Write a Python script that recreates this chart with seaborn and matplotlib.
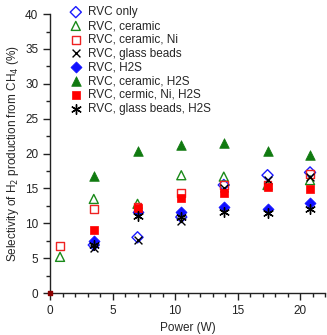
import numpy as np
import pandas as pd
import seaborn as sns
import matplotlib.pyplot as plt

power = [0.8, 3.5, 7.0, 10.5, 13.9, 17.4, 20.8]

rvc_only = [np.nan, 6.9, 8.0, 10.9, 15.5, 16.9, 17.3]
rvc_ceramic = [5.2, 13.5, 12.8, 16.9, 16.7, 15.5, 16.2]
rvc_ceramic_ni = [6.8, 12.1, 12.4, 14.4, 15.5, 15.5, 17.1]
rvc_glass = [np.nan, 6.4, 7.6, 10.3, 15.0, 16.2, 16.7]
rvc_h2s = [np.nan, 7.5, 11.7, 11.7, 12.4, 12.1, 12.9]
rvc_ceramic_h2s = [np.nan, 16.8, 20.4, 21.2, 21.5, 20.4, 19.8]
rvc_cermic_ni_h2s = [np.nan, 9.0, 12.2, 13.6, 14.4, 15.2, 14.9]
rvc_glass_h2s = [np.nan, 6.9, 11.1, 10.9, 11.7, 11.5, 12.0]

origin_x = [0]
origin_y = [0]

labels = ["RVC only", "RVC, ceramic", "RVC, ceramic, Ni", "RVC, glass beads",
          "RVC, H2S", "RVC, ceramic, H2S", "RVC, cermic, Ni, H2S",
          "RVC, glass beads, H2S"]
series = [rvc_only, rvc_ceramic, rvc_ceramic_ni, rvc_glass,
          rvc_h2s, rvc_ceramic_h2s, rvc_cermic_ni_h2s, rvc_glass_h2s]

# marker, colour, filled, size
styles = [
    ("D", "#1a1aff", False, 32),
    ("^", "#1a8a1a", False, 42),
    ("s", "#ee2222", False, 32),
    ("x", "black", True, 32),
    ("D", "#1010ff", True, 32),
    ("^", "#107a10", True, 48),
    ("s", "#ff0000", True, 34),
    ((6, 2, 0), "black", True, 48),
]

sns.set_style("ticks")
plt.rcParams['font.family'] = ['Liberation Sans', 'DejaVu Sans']

fig = plt.figure(figsize=(3.27, 3.35), dpi=100)
ax = fig.add_axes([0.153, 0.125, 0.841, 0.833])

for lab, y, (m, c, filled, s) in zip(labels, series, styles):
    df = pd.DataFrame({"Power": power, "Sel": y}).dropna()
    if m in ("x",) or isinstance(m, tuple):
        sns.scatterplot(data=df, x="Power", y="Sel", marker=m, color=c, s=s,
                        linewidth=1.0, label=lab, ax=ax)
    elif filled:
        sns.scatterplot(data=df, x="Power", y="Sel", marker=m, color=c, s=s,
                        edgecolor=c, linewidth=0.5, label=lab, ax=ax)
    else:
        sns.scatterplot(data=df, x="Power", y="Sel", marker=m, s=s,
                        facecolor="none", edgecolor=c, linewidth=1.0,
                        label=lab, ax=ax)

ax.scatter(origin_x, origin_y, marker="s", s=12, color="#8b0000", zorder=5,
           clip_on=False)

ax.set_xlim(0, 22)
ax.set_ylim(0, 40)
ax.set_xticks(np.arange(0, 21, 5))
ax.set_xticks(np.arange(0, 23, 1), minor=True)
ax.set_yticks(np.arange(0, 41, 5))
ax.set_yticks(np.arange(0, 41, 2.5), minor=True)
ax.tick_params(axis="both", which="major", direction="out", length=5,
               width=1, labelsize=8.5, colors="#222222")
ax.tick_params(axis="both", which="minor", direction="out", length=3,
               width=1, colors="#222222")
sns.despine(ax=ax)
for sp in ["left", "bottom"]:
    ax.spines[sp].set_linewidth(1.0)
    ax.spines[sp].set_color("#222222")

ax.set_xlabel("Power (W)", fontsize=8.5, labelpad=4)
ax.set_ylabel("Selectivity of H$_2$ production from CH$_4$ (%)", fontsize=8.5,
              labelpad=3)

ax.legend(loc="upper left", bbox_to_anchor=(0.055, 1.045), frameon=False,
          fontsize=8.5, handletextpad=0.5, labelspacing=0.15,
          borderaxespad=0.0, handlelength=1.0)

fig.savefig("out.png", dpi=100)
